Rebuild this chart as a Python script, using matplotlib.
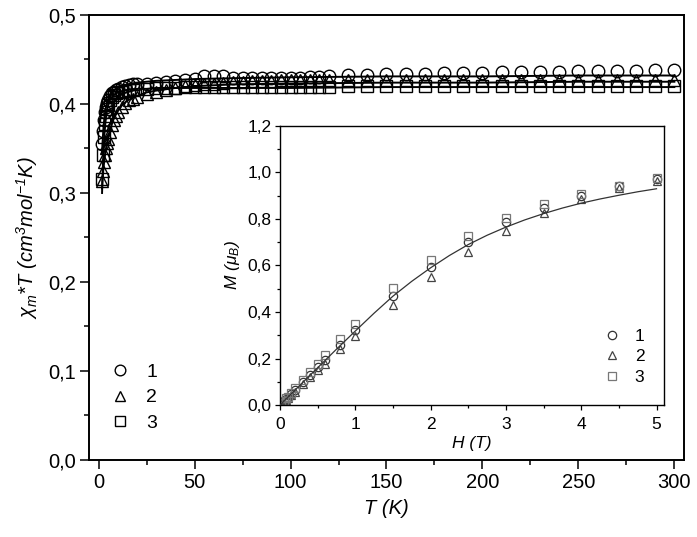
import matplotlib
matplotlib.use('Agg')
import matplotlib.pyplot as plt
from matplotlib.ticker import MultipleLocator, FuncFormatter

plt.rcParams['font.family'] = ['Liberation Sans', 'DejaVu Sans']
plt.rcParams['mathtext.fontset'] = 'custom'
plt.rcParams['mathtext.it'] = 'Liberation Sans:italic'
plt.rcParams['mathtext.rm'] = 'Liberation Sans:italic'
plt.rcParams['mathtext.default'] = 'it'

# ---- main panel data: chi_m*T vs T ----
T = [2, 2.5, 3, 3.5, 4, 4.5, 5, 6, 7, 8, 9, 10, 12, 14, 16, 18,
     20, 25, 30, 35, 40, 45, 50, 55, 60, 65, 70, 75, 80, 85, 90, 95, 100, 105, 110, 115, 120,
     130, 140, 150, 160, 170, 180, 190, 200, 210, 220, 230, 240, 250, 260, 270, 280, 290, 300]
chiT_1 = [0.355, 0.370, 0.382, 0.391, 0.397, 0.401, 0.404, 0.409, 0.412, 0.414, 0.416, 0.417, 0.419, 0.420, 0.421, 0.422,
          0.422, 0.423, 0.424, 0.425, 0.426, 0.427, 0.428, 0.431, 0.432, 0.431, 0.429, 0.429, 0.429, 0.429, 0.429, 0.429, 0.429, 0.429, 0.430, 0.430, 0.432,
          0.433, 0.433, 0.434, 0.434, 0.434, 0.435, 0.435, 0.435, 0.436, 0.436, 0.436, 0.436, 0.437, 0.437, 0.437, 0.437, 0.438, 0.438]
chiT_2 = [0.313, 0.325, 0.335, 0.343, 0.350, 0.356, 0.361, 0.369, 0.376, 0.382, 0.387, 0.391, 0.397, 0.401, 0.404, 0.406,
          0.408, 0.411, 0.414, 0.416, 0.418, 0.420, 0.421, 0.422, 0.423, 0.424, 0.425, 0.425, 0.426, 0.426, 0.426, 0.427, 0.427, 0.427, 0.427, 0.427, 0.427,
          0.427, 0.427, 0.427, 0.427, 0.427, 0.427, 0.427, 0.427, 0.427, 0.427, 0.427, 0.427, 0.427, 0.427, 0.427, 0.427, 0.427, 0.427]
chiT_3 = [0.316, 0.343, 0.363, 0.377, 0.387, 0.394, 0.399, 0.405, 0.408, 0.410, 0.412, 0.413, 0.414, 0.415, 0.416, 0.416,
          0.417, 0.417, 0.418, 0.418, 0.418, 0.419, 0.419, 0.419, 0.419, 0.419, 0.419, 0.419, 0.419, 0.419, 0.419, 0.419, 0.419, 0.419, 0.419, 0.419, 0.419,
          0.420, 0.420, 0.420, 0.420, 0.420, 0.420, 0.420, 0.420, 0.420, 0.420, 0.420, 0.420, 0.420, 0.420, 0.420, 0.420, 0.420, 0.420]

T_fit = [1.8, 2, 2.5, 3, 3.5, 4, 5, 6, 7, 8, 10, 12, 15, 20, 25, 30, 40, 50, 70, 100, 150, 200, 250, 300]
fit_1 = [0.345, 0.355, 0.372, 0.384, 0.392, 0.398, 0.405, 0.410, 0.413, 0.415, 0.418, 0.420, 0.422, 0.424,
         0.425, 0.426, 0.427, 0.428, 0.429, 0.430, 0.431, 0.431, 0.432, 0.432]
fit_2 = [0.305, 0.313, 0.327, 0.337, 0.345, 0.352, 0.363, 0.371, 0.378, 0.384, 0.392, 0.398, 0.404, 0.409,
         0.413, 0.415, 0.418, 0.420, 0.422, 0.423, 0.424, 0.424, 0.425, 0.425]
fit_3 = [0.300, 0.316, 0.345, 0.365, 0.378, 0.388, 0.399, 0.405, 0.408, 0.410, 0.413, 0.414, 0.416, 0.417,
         0.417, 0.418, 0.418, 0.418, 0.418, 0.418, 0.419, 0.419, 0.419, 0.419]

# ---- inset data: M vs H ----
H = [0.02, 0.05, 0.08, 0.1, 0.15, 0.2, 0.3, 0.4, 0.5, 0.6, 0.8, 1.0, 1.5, 2.0, 2.5, 3.0, 3.5, 4.0, 4.5, 5.0]
M_1 = [0.007, 0.016, 0.025, 0.031, 0.047, 0.064, 0.098, 0.130, 0.163, 0.193, 0.260, 0.322, 0.468, 0.595, 0.700, 0.787, 0.848, 0.897, 0.942, 0.970]
M_2 = [0.006, 0.014, 0.022, 0.028, 0.042, 0.058, 0.090, 0.120, 0.150, 0.178, 0.240, 0.295, 0.430, 0.552, 0.660, 0.750, 0.825, 0.886, 0.933, 0.965]
M_3 = [0.008, 0.018, 0.028, 0.035, 0.052, 0.072, 0.106, 0.140, 0.176, 0.215, 0.283, 0.348, 0.502, 0.625, 0.727, 0.806, 0.866, 0.909, 0.944, 0.975]
H_fit = [0, 0.25, 0.5, 0.75, 1.0, 1.25, 1.5, 1.75, 2.0, 2.25, 2.5, 2.75, 3.0, 3.25, 3.5, 3.75, 4.0, 4.25, 4.5, 4.75, 5.0]
M_fit = [0, 0.080, 0.160, 0.240, 0.318, 0.395, 0.468, 0.532, 0.590, 0.643, 0.690, 0.730, 0.765, 0.796,
         0.823, 0.847, 0.868, 0.886, 0.902, 0.917, 0.930]

labels = ['1', '2', '3']

comma = FuncFormatter(lambda v, p: ('%.1f' % v).replace('.', ','))

fig = plt.figure(figsize=(6.97, 5.37), dpi=100)
ax = fig.add_axes([0.1277, 0.1434, 0.8536, 0.8287])

mk = dict(fillstyle='none', color='black', linestyle='none', markersize=9, markeredgewidth=1.0)
ax.plot(T, chiT_1, marker='o', label=labels[0], **mk)
ax.plot(T, chiT_2, marker='^', label=labels[1], **mk)
ax.plot(T, chiT_3, marker='s', label=labels[2], **mk)
for f in (fit_1, fit_2, fit_3):
    ax.plot(T_fit, f, color='black', lw=1.4, zorder=3)

ax.set_xlim(-5, 305)
ax.set_ylim(0, 0.5)
ax.xaxis.set_major_locator(MultipleLocator(50))
ax.xaxis.set_minor_locator(MultipleLocator(25))
ax.yaxis.set_major_locator(MultipleLocator(0.1))
ax.yaxis.set_minor_locator(MultipleLocator(0.05))
ax.yaxis.set_major_formatter(comma)
ax.tick_params(which='both', direction='out', top=False, right=False, width=1.1)
ax.tick_params(which='major', length=6.5, labelsize=14.5, pad=3)
ax.tick_params(which='minor', length=3.6)
for s in ax.spines.values():
    s.set_linewidth(1.4)
ax.set_xlabel('T (K)', fontsize=14.5, style='italic', labelpad=5)
ax.set_ylabel(r'$\chi_m$*T (cm$^3$mol$^{-1}$K)', fontsize=14.5, style='italic', labelpad=6)
ax.legend(loc='lower left', bbox_to_anchor=(0.0, 0.024), frameon=False, fontsize=14,
          handletextpad=0.65, labelspacing=0.4, handlelength=1.4, markerscale=0.85)

# inset
ins = fig.add_axes([0.4017, 0.2458, 0.5510, 0.5196])
mi = dict(fillstyle='none', linestyle='none', markersize=6.0, markeredgewidth=0.9)
ins.plot(H, M_1, marker='o', color='#333333', label=labels[0], **mi)
ins.plot(H, M_2, marker='^', color='#444444', label=labels[1], **mi)
ins.plot(H, M_3, marker='s', color='#777777', label=labels[2], **mi)
ins.plot(H_fit, M_fit, color='#333333', lw=0.9, zorder=3)
ins.set_xlim(0, 5.1)
ins.set_ylim(0, 1.2)
ins.xaxis.set_major_locator(MultipleLocator(1))
ins.xaxis.set_minor_locator(MultipleLocator(0.5))
ins.yaxis.set_major_locator(MultipleLocator(0.2))
ins.yaxis.set_minor_locator(MultipleLocator(0.1))
ins.yaxis.set_major_formatter(comma)
ins.tick_params(which='both', direction='out', top=False, right=False, width=0.9)
ins.tick_params(which='major', length=3.5, labelsize=12.5, pad=2.5)
ins.tick_params(axis='x', which='major', pad=5)
ins.tick_params(which='minor', length=2.2)
for s in ins.spines.values():
    s.set_linewidth(1.0)
ins.set_xlabel('H (T)', fontsize=12.5, style='italic', labelpad=3)
ins.set_ylabel(r'M ($\mu_B$)', fontsize=12.5, style='italic', labelpad=4)
ins.legend(loc='lower right', bbox_to_anchor=(0.99, 0.017), frameon=False, fontsize=12.5,
           handletextpad=0.7, labelspacing=0.3, handlelength=1.2)

fig.savefig('out.png', dpi=100)
